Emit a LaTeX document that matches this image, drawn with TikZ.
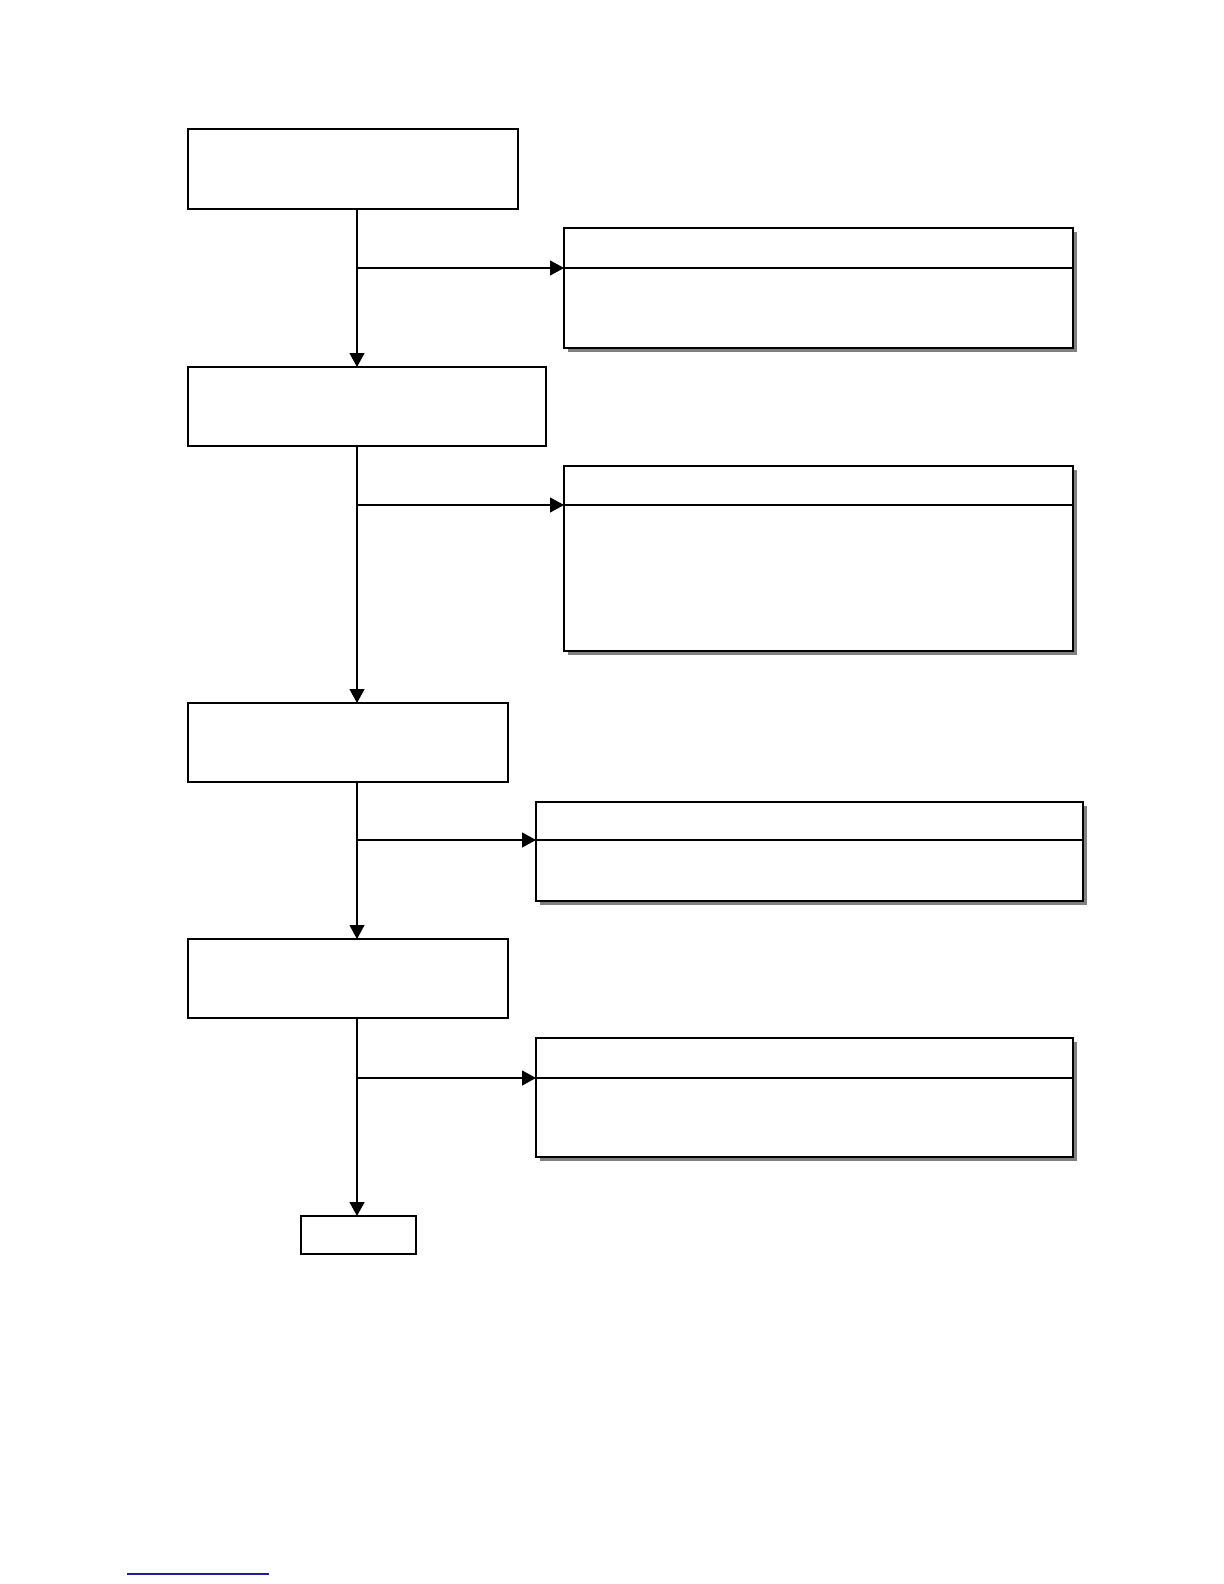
\documentclass[tikz,border=0pt]{standalone}
\usetikzlibrary{arrows.meta,shadows}
\begin{document}
\begin{tikzpicture}[x=0.5pt,y=-0.5pt,
  stepbox/.style={draw=black,line width=1.2pt,fill=white,inner sep=0pt,outer sep=0pt},
  notebox/.style={draw=black,line width=1.1pt,fill=white,inner sep=0pt,outer sep=0pt,
    drop shadow={shadow xshift=2pt,shadow yshift=-2pt,fill=black!50,opacity=1}},
  divider/.style={line width=0.9pt},
  conn/.style={line width=0.6pt},
  arr/.style={conn,-{Triangle[length=7pt,width=7.5pt]}}]
\useasboundingbox (0,0) rectangle (1224,1584);
% left steps
\node[stepbox,minimum width=165pt,minimum height=40pt] (b1) at (353,169) {};
\node[stepbox,minimum width=179pt,minimum height=39.5pt] (b2) at (367,406.5) {};
\node[stepbox,minimum width=160pt,minimum height=39.5pt] (b3) at (348,742.5) {};
\node[stepbox,minimum width=160pt,minimum height=39.5pt] (b4) at (348,978.5) {};
\node[stepbox,line width=0.8pt,minimum width=57.5pt,minimum height=19pt] (b5) at (358.5,1235) {};
% right notes
\node[notebox,minimum width=254.5pt,minimum height=60pt] (r1) at (818.5,288) {};
\node[notebox,minimum width=254.5pt,minimum height=92.5pt] (r2) at (818.5,558.5) {};
\node[notebox,minimum width=273.5pt,minimum height=49.5pt] (r3) at (809.5,851.5) {};
\node[notebox,minimum width=268.5pt,minimum height=59.5pt] (r4) at (804.5,1097.5) {};
% spine
\coordinate (sp) at (357,0);
\coordinate (j1) at (357,268);
\coordinate (j2) at (357,505);
\coordinate (j3) at (357,840);
\coordinate (j4) at (357,1078);
% dividers
\draw[divider] (r1.west |- j1) -- (r1.east |- j1);
\draw[divider] (r2.west |- j2) -- (r2.east |- j2);
\draw[divider] (r3.west |- j3) -- (r3.east |- j3);
\draw[divider] (r4.west |- j4) -- (r4.east |- j4);
% vertical arrows
\draw[arr] (b1.south -| sp) -- (b2.north -| sp);
\draw[arr] (b2.south -| sp) -- (b3.north -| sp);
\draw[arr] (b3.south -| sp) -- (b4.north -| sp);
\draw[arr] (b4.south -| sp) -- (b5.north -| sp);
% branch arrows
\draw[arr] (j1) -- (j1 -| r1.west);
\draw[arr] (j2) -- (j2 -| r2.west);
\draw[arr] (j3) -- (j3 -| r3.west);
\draw[arr] (j4) -- (j4 -| r4.west);
% footnote rule
\draw[line width=0.7pt,color={rgb,255:red,30;green,30;blue,150}] (127,1574) -- (269,1574);
\end{tikzpicture}
\end{document}
